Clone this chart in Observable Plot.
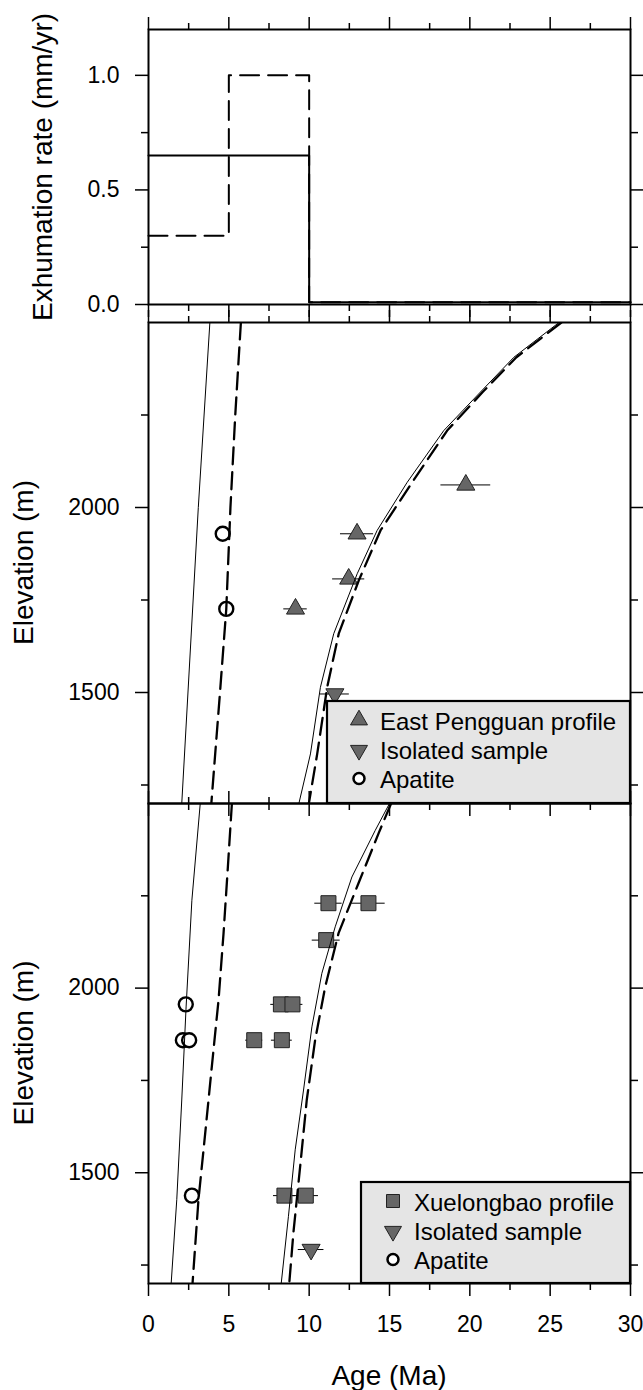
<!DOCTYPE html>
<html>
<head>
<meta charset="utf-8">
<script src="https://cdn.jsdelivr.net/npm/d3@7"></script>
<script src="https://cdn.jsdelivr.net/npm/@observablehq/plot@0.6"></script>
<style>
  body { margin: 0; background: white; }
  #wrap { position: relative; width: 643px; height: 1390px; background: white; overflow: hidden; font-family: "Liberation Sans", Arial, Helvetica, sans-serif; }
  #wrap svg { position: absolute; left: 0; top: 0; }
</style>
</head>
<body>
<div id="wrap"></div>
<script>
// ---------- tick values ----------
const majorAge = [0, 5, 10, 15, 20, 25, 30];
const minorAge = [2.5, 7.5, 12.5, 17.5, 22.5, 27.5];
const rateMajor = [0, 0.5, 1.0];
const rateMinor = [0.25, 0.75];
const elevMajor = [1500, 2000];
const elevMinor = [1250, 1750, 2250];

// ---------- exhumation rate histories ----------
const solidRateAges = [0, 10, 30];
const solidRates = [0.65, 0.01, 0.01];
const dashedRateAges = [0, 5, 10, 30];
const dashedRates = [0.3, 1.0, 0.01, 0.01];

// ---------- East Pengguan panel ----------
const epZheAge = [19.75, 12.98, 12.46, 9.15];
const epZheErr = [1.55, 1.03, 1.0, 0.73];
const epZheElev = [2061, 1929, 1807, 1726];
const epIsoAge = [11.6];
const epIsoErr = [0.9];
const epIsoElev = [1496];
const epApAge = [4.62, 4.84];
const epApElev = [1929, 1726];
const epZheSolidAge = [25.55, 22.74, 20.66, 18.38, 16.1, 14.23, 12.99, 11.53, 10.7, 10.08, 9.36];
const epZheSolidElev = [2500, 2406, 2312, 2208, 2068, 1938, 1821, 1659, 1514, 1334, 1200];
const epZheDashAge = [25.7, 22.9, 20.8, 18.59, 16.41, 14.44, 13.09, 11.84, 11.12, 10.5, 9.98];
const epZheDashElev = [2500, 2406, 2312, 2208, 2068, 1938, 1803, 1659, 1514, 1334, 1200];
const epApSolidAge = [3.82, 3.1, 2.07];
const epApSolidElev = [2500, 2000, 1200];
const epApDashAge = [5.75, 5.4, 5.1, 4.84, 4.45, 3.91];
const epApDashElev = [2500, 2250, 2000, 1725, 1500, 1200];

// ---------- Xuelongbao panel ----------
const xlZheAge = [11.2, 13.69, 11.06, 8.24, 8.96, 6.58, 8.3, 8.46, 9.79];
const xlZheErr = [0.85, 1.04, 0.87, 0.63, 0.65, 0.53, 0.65, 0.68, 0.79];
const xlZheElev = [2230, 2230, 2130, 1956, 1956, 1859, 1859, 1438, 1438];
const xlIsoAge = [10.12];
const xlIsoErr = [0.8];
const xlIsoElev = [1292];
const xlApAge = [2.32, 2.14, 2.53, 2.7];
const xlApElev = [1956, 1859, 1859, 1438];
const xlZheSolidAge = [15.0, 14.11, 12.66, 11.62, 10.79, 10.17, 9.65, 9.13, 8.71, 8.26];
const xlZheSolidElev = [2500, 2427, 2301, 2166, 2040, 1895, 1724, 1562, 1382, 1200];
const xlZheDashAge = [15.1, 14.32, 13.07, 11.83, 11.0, 10.37, 9.85, 9.44, 9.02, 8.76];
const xlZheDashElev = [2500, 2419, 2284, 2149, 2004, 1859, 1697, 1517, 1338, 1200];
const xlApSolidAge = [3.22, 2.7, 2.34, 2.07, 1.76, 1.41];
const xlApSolidElev = [2500, 2238, 1949, 1697, 1427, 1200];
const xlApDashAge = [5.19, 4.94, 4.67, 4.36, 3.94, 3.53, 3.11, 2.74];
const xlApDashElev = [2500, 2328, 2148, 1968, 1787, 1607, 1427, 1200];

// ---------- helpers ----------
const zipPts = (ages, elevs, errs) => ages.map((a, i) => ({age: a, elev: elevs[i], err: errs ? errs[i] : 0}));
const zipRate = (ages, rates) => ages.map((a, i) => ({age: a, rate: rates[i]}));

const W = 643, H = 1390;
const FONT = "'Liberation Sans', Arial, Helvetica, sans-serif";
const blank = () => "";
const DASH = "17,8";

function axes(yMajor, yMinor, yFmt, xLabels) {
  const c = {label: null, strokeWidth: 1.5, fontSize: 23};
  return [
    Plot.axisX({...c, anchor: "top", ticks: majorAge, tickSize: 13, tickFormat: blank}),
    Plot.axisX({...c, anchor: "top", ticks: minorAge, tickSize: 7, tickFormat: blank}),
    Plot.axisX({...c, anchor: "bottom", ticks: majorAge, tickSize: 13, tickPadding: 19, tickFormat: xLabels ? d3.format("d") : blank}),
    Plot.axisX({...c, anchor: "bottom", ticks: minorAge, tickSize: 7, tickFormat: blank}),
    Plot.axisY({...c, anchor: "left", ticks: yMajor, tickSize: 13, tickPadding: 16, tickFormat: yFmt}),
    Plot.axisY({...c, anchor: "left", ticks: yMinor, tickSize: 7, tickFormat: blank}),
    Plot.axisY({...c, anchor: "right", ticks: yMajor, tickSize: 13, tickFormat: blank}),
    Plot.axisY({...c, anchor: "right", ticks: yMinor, tickSize: 7, tickFormat: blank})
  ];
}

function basePlot(marginTop, marginBottom, yDomain, marks) {
  return Plot.plot({
    width: W, height: H,
    marginLeft: 148, marginRight: 13, marginTop, marginBottom,
    x: {domain: [0, 30]},
    y: {domain: yDomain},
    style: {background: "transparent", overflow: "visible", fontFamily: FONT, color: "black"},
    marks
  });
}

function elevMarks(zhe, iso, ap, curves, zheSymbol, zheR) {
  return [
    Plot.ruleY(zhe, {y: "elev", x1: d => d.age - d.err, x2: d => d.age + d.err, stroke: "black", strokeWidth: 1}),
    Plot.ruleY(iso, {y: "elev", x1: d => d.age - d.err, x2: d => d.age + d.err, stroke: "black", strokeWidth: 1}),
    Plot.dot(zhe, {x: "age", y: "elev", symbol: zheSymbol, r: zheR, fill: "#666", stroke: "#222", strokeWidth: 1}),
    Plot.dot(iso, {x: "age", y: "elev", symbol: "triangle", rotate: 180, r: 6.7, fill: "#666", stroke: "#222", strokeWidth: 1}),
    Plot.dot(ap, {x: "age", y: "elev", r: 7, fill: "white", stroke: "black", strokeWidth: 2.4}),
    Plot.line(curves.apSolid, {x: "age", y: "elev", stroke: "black", strokeWidth: 1, clip: true}),
    Plot.line(curves.apDash, {x: "age", y: "elev", stroke: "black", strokeWidth: 2.3, strokeDasharray: DASH, clip: true}),
    Plot.line(curves.zheSolid, {x: "age", y: "elev", stroke: "black", strokeWidth: 1, clip: true}),
    Plot.line(curves.zheDash, {x: "age", y: "elev", stroke: "black", strokeWidth: 2.3, strokeDasharray: DASH, clip: true})
  ];
}

const wrap = document.getElementById("wrap");

// ---------- top panel: exhumation rate ----------
const topPlot = basePlot(29, H - 304, [0, 1.2], [
  Plot.line(zipRate(solidRateAges, solidRates), {x: "age", y: "rate", curve: "step-after", stroke: "black", strokeWidth: 2}),
  Plot.line(zipRate(dashedRateAges, dashedRates), {x: "age", y: "rate", curve: "step-after", stroke: "black", strokeWidth: 2, strokeDasharray: "19,9"}),
  Plot.frame({stroke: "black", strokeWidth: 2}),
  ...axes(rateMajor, rateMinor, d3.format(".1f"), false)
]);
wrap.appendChild(topPlot);

// ---------- middle panel: East Pengguan ----------
const midPlot = basePlot(322, H - 803, [1200, 2500], [
  ...elevMarks(
    zipPts(epZheAge, epZheElev, epZheErr),
    zipPts(epIsoAge, epIsoElev, epIsoErr),
    zipPts(epApAge, epApElev),
    {
      apSolid: zipPts(epApSolidAge, epApSolidElev),
      apDash: zipPts(epApDashAge, epApDashElev),
      zheSolid: zipPts(epZheSolidAge, epZheSolidElev),
      zheDash: zipPts(epZheDashAge, epZheDashElev)
    }, "triangle", 6.7),
  Plot.frame({stroke: "black", strokeWidth: 2}),
  ...axes(elevMajor, elevMinor, d3.format("d"), false)
]);
wrap.appendChild(midPlot);

// ---------- bottom panel: Xuelongbao ----------
const botPlot = basePlot(803, H - 1283, [1200, 2500], [
  ...elevMarks(
    zipPts(xlZheAge, xlZheElev, xlZheErr),
    zipPts(xlIsoAge, xlIsoElev, xlIsoErr),
    zipPts(xlApAge, xlApElev),
    {
      apSolid: zipPts(xlApSolidAge, xlApSolidElev),
      apDash: zipPts(xlApDashAge, xlApDashElev),
      zheSolid: zipPts(xlZheSolidAge, xlZheSolidElev),
      zheDash: zipPts(xlZheDashAge, xlZheDashElev)
    }, "square", 8.46),
  Plot.frame({stroke: "black", strokeWidth: 2}),
  ...axes(elevMajor, elevMinor, d3.format("d"), true)
]);
wrap.appendChild(botPlot);

// ---------- overlay: axis titles and legends ----------
const ov = d3.select(wrap).append("svg")
  .attr("width", W).attr("height", H)
  .style("font-family", FONT);

function vTitle(text, x, cy) {
  ov.append("text").attr("transform", `translate(${x},${cy}) rotate(-90)`)
    .attr("text-anchor", "middle").attr("font-size", 28).attr("fill", "black").text(text);
}
vTitle("Exhumation rate (mm/yr)", 52, 167);
vTitle("Elevation (m)", 33, 562.5);
vTitle("Elevation (m)", 33, 1043);
ov.append("text").attr("x", 389).attr("y", 1385).attr("text-anchor", "middle")
  .attr("font-size", 28).attr("fill", "black").text("Age (Ma)");

function legend(x0, y0, w, h, entries) {
  const g = ov.append("g");
  g.append("rect").attr("x", x0).attr("y", y0).attr("width", w).attr("height", h)
    .attr("fill", "#e5e5e5").attr("stroke", "black").attr("stroke-width", 2.2);
  entries.forEach((e, i) => {
    const cy = y0 + 20 + i * 29.3;
    const cx = x0 + 32;
    if (e.sym === "up") {
      g.append("path").attr("d", d3.symbol(d3.symbolTriangle, 125)()).attr("transform", `translate(${cx},${cy - 1})`)
        .attr("fill", "#666").attr("stroke", "#222").attr("stroke-width", 1);
    } else if (e.sym === "down") {
      g.append("path").attr("d", d3.symbol(d3.symbolTriangle, 125)()).attr("transform", `translate(${cx},${cy}) rotate(180)`)
        .attr("fill", "#666").attr("stroke", "#222").attr("stroke-width", 1);
    } else if (e.sym === "square") {
      g.append("path").attr("d", d3.symbol(d3.symbolSquare, 169)()).attr("transform", `translate(${cx},${cy - 1})`)
        .attr("fill", "#666").attr("stroke", "#222").attr("stroke-width", 1);
    } else {
      g.append("circle").attr("cx", cx).attr("cy", cy - 1).attr("r", 5.5)
        .attr("fill", "white").attr("stroke", "black").attr("stroke-width", 2.5);
    }
    g.append("text").attr("x", x0 + 53).attr("y", cy + 8.5).attr("font-size", 24)
      .attr("fill", "black").text(e.label);
  });
}
const legendEP = [
  {sym: "up", label: "East Pengguan profile"},
  {sym: "down", label: "Isolated sample"},
  {sym: "circle", label: "Apatite"}
];
const legendXL = [
  {sym: "square", label: "Xuelongbao profile"},
  {sym: "down", label: "Isolated sample"},
  {sym: "circle", label: "Apatite"}
];
legend(327, 701, 303, 102, legendEP);
legend(361, 1182, 269, 101, legendXL);
</script>
</body>
</html>
